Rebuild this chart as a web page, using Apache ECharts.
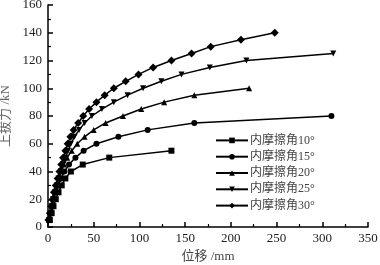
<!DOCTYPE html>
<html>
<head>
<meta charset="utf-8">
<script src="https://cdn.jsdelivr.net/npm/echarts@6/dist/echarts.min.js"></script>
<style>
  html, body { margin: 0; padding: 0; background: #fff; }
  #chart { width: 380px; height: 265px; }
</style>
</head>
<body>
<div id="chart"></div>
<script>
// 位移 (mm) / 上拔力 (kN)
const names = ["内摩擦角10°", "内摩擦角15°", "内摩擦角20°", "内摩擦角25°", "内摩擦角30°"];
const symbols = ["rect", "circle", "triangle", "triangle", "diamond"];
const rotates = [0, 0, 0, 180, 0];

const load10 = [5, 10, 15, 20, 25, 30, 35, 40, 45, 50, 55];
const disp10 = [2, 4, 6, 8.5, 11.5, 15, 19, 25, 38, 67, 135];

const load15 = [5, 10, 15, 20, 25, 30, 35, 40, 45, 50, 55, 60, 65, 70, 75, 80];
const disp15 = [1.5, 3, 4.5, 6, 8.5, 11, 14, 18, 23, 30, 39, 53, 77, 109, 160, 310];

const load20 = [5, 10, 15, 20, 25, 30, 35, 40, 45, 50, 55, 60, 65, 70, 75, 80, 85, 90, 95, 100];
const disp20 = [1, 2.5, 4, 5.5, 7.5, 9.5, 12, 14.5, 17.5, 21, 26, 32, 40, 50, 63, 82, 102, 127, 160, 220];

const load25 = [5, 10, 15, 20, 25, 30, 35, 40, 45, 50, 55, 60, 65, 70, 75, 80, 85, 90, 95, 100, 105, 110, 115, 120, 125];
const disp25 = [1, 2.5, 4, 5.5, 7.5, 9.5, 11.5, 14, 16.5, 19, 22, 25, 29, 34, 40, 48, 59, 72, 87, 104, 124, 146, 177, 217, 312];

const load30 = [5, 10, 15, 20, 25, 30, 35, 40, 45, 50, 55, 60, 65, 70, 75, 80, 85, 90, 95, 100, 105, 110, 115, 120, 125, 130, 135, 140];
const disp30 = [0.5, 2, 3.5, 5, 6.5, 8.5, 10.5, 12.5, 14.5, 16.5, 19, 21.5, 24.5, 28, 33, 38.5, 45, 53, 62, 72, 85, 99, 115, 135, 157, 178, 211, 248];

const loads = [load10, load15, load20, load25, load30];
const disps = [disp10, disp15, disp20, disp25, disp30];

const serif = "'Liberation Serif', 'DejaVu Serif', serif";
const cjk = "'Liberation Serif', 'Noto Sans CJK SC', serif";

const chart = echarts.init(document.getElementById("chart"), null, { renderer: "canvas" });

const option = {
  animation: false,
  backgroundColor: "#fff",
  grid: { left: 48, right: 12, top: 5, bottom: 38, containLabel: false, outerBoundsMode: "none" },
  legend: {
    orient: "vertical",
    left: 215,
    top: 133,
    padding: 0,
    itemWidth: 32,
    itemHeight: 7,
    itemGap: 1.5,
    textStyle: { fontFamily: cjk, fontSize: 12, lineHeight: 14.8, color: "#444", padding: [0, 0, 0, -3] },
    data: names
  },
  xAxis: {
    type: "value",
    min: 0,
    max: 350,
    interval: 50,
    name: "位移 /mm",
    nameLocation: "middle",
    nameGap: 22,
    nameTextStyle: { fontFamily: cjk, fontSize: 13, color: "#444" },
    axisLine: { show: true, lineStyle: { color: "#000", width: 1.5 } },
    axisTick: { show: true, inside: true, length: 5, lineStyle: { color: "#000", width: 1.5 } },
    minorTick: { show: true, splitNumber: 2, length: 3, lineStyle: { color: "#000", width: 1.2 } },
    axisLabel: { fontFamily: serif, fontSize: 13, color: "#222", margin: 5 },
    splitLine: { show: false }
  },
  yAxis: {
    type: "value",
    min: 0,
    max: 160,
    interval: 20,
    name: "上拔力 /kN",
    nameLocation: "middle",
    nameRotate: 90,
    nameGap: 34,
    nameTextStyle: { fontFamily: cjk, fontSize: 13, color: "#666" },
    axisLine: { show: true, lineStyle: { color: "#000", width: 1.5 } },
    axisTick: { show: true, inside: true, length: 5, lineStyle: { color: "#000", width: 1.5 } },
    minorTick: { show: true, splitNumber: 2, length: 3, lineStyle: { color: "#000", width: 1.2 } },
    axisLabel: { fontFamily: serif, fontSize: 13, color: "#222", margin: 6 },
    splitLine: { show: false }
  },
  series: names.map((n, i) => ({
    name: n,
    type: "line",
    symbol: symbols[i],
    symbolRotate: rotates[i],
    symbolSize: symbols[i] === "diamond" ? 8 : 6,
    lineStyle: { color: "#000", width: 1.5 },
    itemStyle: { color: "#000" },
    data: disps[i].map((x, k) => [x, loads[i][k]])
  }))
};

chart.setOption(option);
</script>
</body>
</html>
